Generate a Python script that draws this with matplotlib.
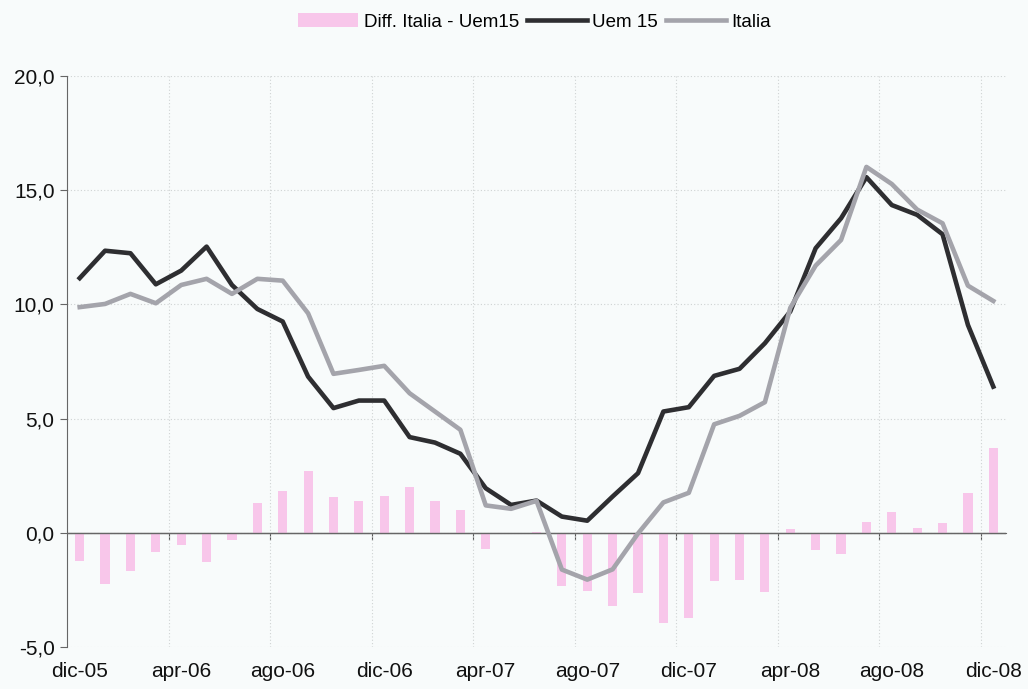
import numpy as np
import matplotlib.pyplot as plt
from matplotlib.ticker import FuncFormatter

plt.rcParams['font.family'] = ['Liberation Sans', 'DejaVu Sans']

# Monthly data, dic-05 ... dic-08
months = ["dic-05", "gen-06", "feb-06", "mar-06", "apr-06", "mag-06", "giu-06", "lug-06",
          "ago-06", "set-06", "ott-06", "nov-06", "dic-06", "gen-07", "feb-07", "mar-07",
          "apr-07", "mag-07", "giu-07", "lug-07", "ago-07", "set-07", "ott-07", "nov-07",
          "dic-07", "gen-08", "feb-08", "mar-08", "apr-08", "mag-08", "giu-08", "lug-08",
          "ago-08", "set-08", "ott-08", "nov-08", "dic-08"]

uem15 = [11.15, 12.35, 12.24, 10.88, 11.48, 12.53, 10.85, 9.80, 9.25, 6.84,
         5.46, 5.79, 5.79, 4.19, 3.95, 3.46, 1.95, 1.22, 1.41, 0.71,
         0.53, 1.59, 2.61, 5.31, 5.50, 6.87, 7.18, 8.30, 9.69, 12.46,
         13.77, 15.57, 14.35, 13.92, 13.07, 9.10, 6.40]

italia = [9.88, 10.02, 10.46, 10.05, 10.85, 11.12, 10.46, 11.12, 11.04, 9.61,
          6.96, 7.13, 7.31, 6.11, 5.31, 4.51, 1.20, 1.05, 1.40, -1.61,
          -2.05, -1.60, -0.03, 1.33, 1.75, 4.75, 5.12, 5.72, 9.85, 11.70,
          12.82, 16.02, 15.27, 14.15, 13.55, 10.82, 10.15]

diff = [-1.23, -2.23, -1.69, -0.82, -0.53, -1.30, -0.31, 1.30, 1.84, 2.71,
        1.55, 1.40, 1.62, 2.00, 1.40, 1.00, -0.71, -0.05, 0.02, -2.32,
        -2.57, -3.19, -2.64, -3.95, -3.73, -2.09, -2.06, -2.61, 0.16, -0.77,
        -0.92, 0.47, 0.90, 0.20, 0.45, 1.74, 3.71]

yticks = [-5, 0, 5, 10, 15, 20]

bg = '#f8fbfb'
fig = plt.figure(figsize=(10.28, 6.89), dpi=100, facecolor=bg)
ax = fig.add_axes([67 / 1028, 1 - 647 / 689, (1006 - 67) / 1028, (647 - 76) / 689])
ax.set_facecolor(bg)

x = np.arange(len(months))
bars = ax.bar(x, diff, width=0.36, color='#f8c6ea', zorder=2, label="Diff. Italia - Uem15")
l1, = ax.plot(x, uem15, color='#2e2e31', lw=3.3, zorder=4, label="Uem 15")
l2, = ax.plot(x, italia, color='#a4a4ab', lw=3.3, zorder=5, label="Italia")

ax.set_xlim(-0.5, len(months) - 0.5)
ax.set_ylim(-5, 20)

# labels every 4 months, shown along the bottom
ax.set_xticks(x[::4])
ax.set_xticklabels(months[::4])
ax.tick_params(axis='x', which='major', length=0, pad=11, labelsize=15, colors='#111111')
ax.set_xticks(np.arange(3.5, len(months) - 1, 4), minor=True)
ax.tick_params(axis='x', which='minor', length=0)
ax.grid(axis='x', which='minor', linestyle=(0, (1, 2)), color='#cfd3d3', lw=0.8)

ax.set_yticks(yticks)
ax.yaxis.set_major_formatter(FuncFormatter(lambda v, p: f"{v:.1f}".replace('.', ',')))
ax.tick_params(axis='y', direction='out', length=5, color='#666666', labelsize=15,
               pad=4, labelcolor='#111111')
ax.grid(axis='y', linestyle=(0, (1, 2)), color='#cfd3d3', lw=0.8)
ax.set_axisbelow(True)

for s in ['top', 'right', 'bottom']:
    ax.spines[s].set_visible(False)
ax.spines['left'].set_color('#666666')

# category axis crossing at zero
ax.axhline(0, color='#666666', lw=1.0, zorder=3)
zero = ax.secondary_xaxis(0.2)
zero.set_xticks(np.arange(3.5, len(months) - 1, 4))
zero.set_xticklabels([])
zero.tick_params(direction='out', length=5, color='#555555')
zero.spines['bottom'].set_color('#666666')

fig.legend(handles=[bars, l1, l2], loc='center', bbox_to_anchor=(0.52, 1 - 22 / 689),
           ncol=3, frameon=False, fontsize=13.5, handlelength=3.2, handletextpad=0.3,
           columnspacing=0.4)

fig.savefig('out.png', dpi=100, facecolor=bg)
